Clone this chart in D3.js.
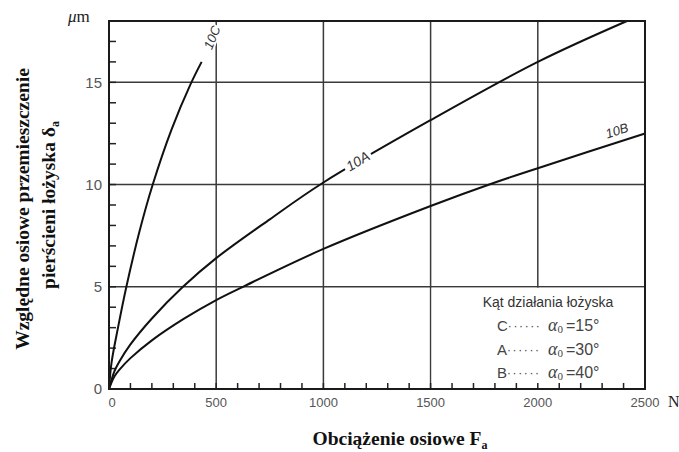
<!DOCTYPE html>
<html><head><meta charset="utf-8">
<script src="https://cdn.jsdelivr.net/npm/d3@7"></script>
<style>body{margin:0;background:#fff}svg{display:block}</style>
</head><body>
<svg id="c" width="679" height="452"></svg>
<script>
// ---- data ----
const xTickLabels = [0, 500, 1000, 1500, 2000, 2500];
const yTickLabels = [0, 5, 10, 15];
const curveC_F = [0, 12, 42, 81, 142, 204, 292, 380, 432];
const curveC_d = [0, 1.3, 3.0, 5.0, 7.7, 10.0, 12.7, 14.9, 16.0];
const curveA_F = [0, 25, 50, 100, 200, 345, 500, 750, 1000, 1500, 2000, 2416];
const curveA_d = [0, 0.86, 1.37, 2.18, 3.45, 5.0, 6.4, 8.3, 10.1, 13.15, 16.0, 18.0];
const curveB_F = [0, 25, 50, 100, 200, 350, 500, 625, 1000, 1500, 1800, 2000, 2500];
const curveB_d = [0, 0.61, 0.96, 1.51, 2.38, 3.44, 4.35, 5.0, 6.85, 8.95, 10.1, 10.8, 12.5];
const seriesNames = ["10C", "10A", "10B"];
const legendLetters = ["C", "A", "B"];
const legendAngles = ["15°", "30°", "40°"];

const svg = d3.select("#c");
const x = d3.scaleLinear().domain([0, 2500]).range([109, 645]);
const y = d3.scaleLinear().domain([0, 18]).range([389, 21]);

const sans = "'Liberation Sans', Arial, sans-serif";
const serif = "'Liberation Serif', 'Times New Roman', serif";

// gridlines
const g = svg.append("g");
g.selectAll(".vg").data([500, 1000, 1500, 2000]).join("line")
  .attr("x1", d => x(d)).attr("x2", d => x(d))
  .attr("y1", y(18)).attr("y2", y(0))
  .attr("stroke", "#3a3a3a").attr("stroke-width", 1.5);
g.selectAll(".hg").data([5, 10, 15]).join("line")
  .attr("x1", x(0)).attr("x2", x(2500))
  .attr("y1", d => y(d)).attr("y2", d => y(d))
  .attr("stroke", "#3a3a3a").attr("stroke-width", 1.5);

// legend panel (covers 2000 gridline below 5)
svg.append("rect").attr("x", x(1500) + 1).attr("y", y(5) + 1)
  .attr("width", x(2500) - x(1500) - 2).attr("height", y(0) - y(5) - 2)
  .attr("fill", "#fff");

// minor ticks
svg.append("g").selectAll("line").data(d3.range(100, 2500, 100)).join("line")
  .attr("x1", d => x(d)).attr("x2", d => x(d))
  .attr("y1", y(0)).attr("y2", y(0) - 6)
  .attr("stroke", "#222").attr("stroke-width", 1.5);
svg.append("g").selectAll("line").data(d3.range(1, 18, 1)).join("line")
  .attr("x1", x(0)).attr("x2", x(0) + 7)
  .attr("y1", d => y(d)).attr("y2", d => y(d))
  .attr("stroke", "#222").attr("stroke-width", 1.5);

// curves
const line = d3.line().x(d => x(d[0])).y(d => y(d[1])).curve(d3.curveCatmullRom.alpha(0.5));
const series = [
  d3.zip(curveC_F, curveC_d),
  d3.zip(curveA_F, curveA_d),
  d3.zip(curveB_F, curveB_d)
];
svg.append("g").selectAll("path").data(series).join("path")
  .attr("d", line).attr("fill", "none")
  .attr("stroke", "#111").attr("stroke-width", 2);

// curve labels
function curveLabel(F, d, ang, txt, size, bg, dy) {
  const gg = svg.append("g").attr("transform", `translate(${x(F)},${y(d)}) rotate(${ang})`);
  if (bg) gg.append("rect").attr("x", -bg[0] / 2).attr("y", -bg[1] / 2)
    .attr("width", bg[0]).attr("height", bg[1]).attr("fill", "#fff");
  gg.append("text").attr("text-anchor", "middle").attr("dy", dy)
    .attr("font-family", sans).attr("font-size", size).attr("fill", "#333")
    .attr("font-style", "italic").text(txt);
}
curveLabel(480, 17.2, -68, seriesNames[0], 13, [26, 13], "0.36em");
curveLabel(1160, 11.15, -31, seriesNames[1], 14, [30, 13], "0.36em");
curveLabel(2372, 12.55, -18, seriesNames[2], 13, null, "0.2em");

// frame
svg.append("rect").attr("x", x(0)).attr("y", y(18))
  .attr("width", x(2500) - x(0)).attr("height", y(0) - y(18))
  .attr("fill", "none").attr("stroke", "#1a1a1a").attr("stroke-width", 2);

// tick labels
svg.append("g").selectAll("text").data(xTickLabels).join("text")
  .attr("x", d => x(d) + (d === 0 ? 3 : 0)).attr("y", 407)
  .attr("text-anchor", "middle").attr("font-family", sans).attr("font-size", 13)
  .attr("fill", "#555").text(d => d);
svg.append("g").selectAll("text").data(yTickLabels).join("text")
  .attr("x", 102).attr("y", d => y(d)).attr("dy", "0.36em")
  .attr("text-anchor", "end").attr("font-family", sans).attr("font-size", 15)
  .attr("fill", "#555").text(d => d);

// units
svg.append("text").attr("x", 668).attr("y", 407).attr("font-family", serif)
  .attr("font-size", 16).attr("fill", "#222").text("N");
const um = svg.append("text").attr("x", 68).attr("y", 22).attr("font-family", serif)
  .attr("font-size", 17).attr("fill", "#222");
um.append("tspan").attr("font-style", "italic").text("μ");
um.append("tspan").text("m");

// axis titles
const xt = svg.append("text").attr("x", 400).attr("y", 445).attr("text-anchor", "middle")
  .attr("font-family", serif).attr("font-weight", "bold").attr("font-size", 19.5).attr("fill", "#111");
xt.append("tspan").text("Obciążenie osiowe F");
xt.append("tspan").attr("font-size", 12).attr("dy", 4).text("a");

const yt = svg.append("g").attr("transform", "translate(0,209) rotate(-90)");
yt.append("text").attr("x", 0).attr("y", 29).attr("text-anchor", "middle")
  .attr("font-family", serif).attr("font-weight", "bold").attr("font-size", 19.5).attr("fill", "#111")
  .text("Względne osiowe przemieszczenie");
const yt2 = yt.append("text").attr("x", 4).attr("y", 55).attr("text-anchor", "middle")
  .attr("font-family", serif).attr("font-weight", "bold").attr("font-size", 19.5).attr("fill", "#111");
yt2.append("tspan").text("pierścieni łożyska δ");
yt2.append("tspan").attr("font-size", 12).attr("dy", 4).text("a");

// legend
svg.append("text").attr("x", 548).attr("y", 307).attr("text-anchor", "middle")
  .attr("font-family", sans).attr("font-size", 14).attr("fill", "#333")
  .text("Kąt działania łożyska");
legendLetters.forEach((L, i) => {
  const t = svg.append("text").attr("x", 497).attr("y", 331 + i * 23.5)
    .attr("font-family", sans).attr("font-size", 15).attr("fill", "#444");
  t.append("tspan").text(L);
  t.append("tspan").attr("font-size", 12).attr("letter-spacing", 1.6).attr("dy", -1).text("······");
  t.append("tspan").attr("x", 548).attr("dy", 1).attr("font-family", serif).attr("font-style", "italic")
    .attr("font-size", 18).text("α");
  t.append("tspan").attr("font-family", serif).attr("font-size", 11).attr("dy", 2).text("0");
  t.append("tspan").attr("dy", -2).attr("dx", 3).attr("font-size", 16).text("=" + legendAngles[i]);
});
</script>
</body></html>
